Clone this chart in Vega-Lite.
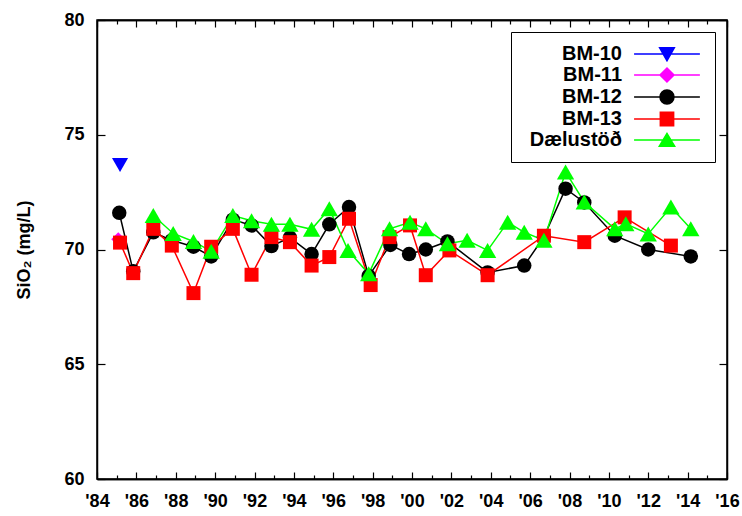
{
  "$schema": "https://vega.github.io/schema/vega-lite/v6.json",
  "width": 630,
  "height": 459,
  "autosize": "none",
  "padding": {"left": 97, "top": 20, "right": 15, "bottom": 37},
  "config": {
    "font": "Liberation Sans",
    "view": {"stroke": "black", "strokeWidth": 1.5},
    "axis": {
      "grid": false,
      "domainColor": "black",
      "domainWidth": 1.5,
      "tickColor": "black",
      "tickWidth": 1.2,
      "labelColor": "black",
      "titleColor": "black",
      "labelFont": "Liberation Sans",
      "labelFontSize": 18,
      "labelFontWeight": "bold"
    }
  },
  "data": {
    "values": [
      {"series": "BM-10", "year": 1985.17, "value": 73.68},
      {"series": "BM-11", "year": 1985.08, "value": 70.45},
      {"series": "BM-12", "year": 1985.13, "value": 71.6},
      {"series": "BM-12", "year": 1985.84, "value": 69.05},
      {"series": "BM-12", "year": 1986.86, "value": 70.75},
      {"series": "BM-12", "year": 1987.8, "value": 70.4},
      {"series": "BM-12", "year": 1988.9, "value": 70.12},
      {"series": "BM-12", "year": 1989.8, "value": 69.7},
      {"series": "BM-12", "year": 1990.9, "value": 71.3},
      {"series": "BM-12", "year": 1991.85, "value": 71.05},
      {"series": "BM-12", "year": 1992.86, "value": 70.15},
      {"series": "BM-12", "year": 1993.8, "value": 70.52},
      {"series": "BM-12", "year": 1994.9, "value": 69.8},
      {"series": "BM-12", "year": 1995.8, "value": 71.1},
      {"series": "BM-12", "year": 1996.8, "value": 71.85},
      {"series": "BM-12", "year": 1997.8, "value": 68.85},
      {"series": "BM-12", "year": 1998.9, "value": 70.2},
      {"series": "BM-12", "year": 1999.85, "value": 69.8},
      {"series": "BM-12", "year": 2000.7, "value": 70.0},
      {"series": "BM-12", "year": 2001.8, "value": 70.35},
      {"series": "BM-12", "year": 2003.84, "value": 69.0},
      {"series": "BM-12", "year": 2005.7, "value": 69.3},
      {"series": "BM-12", "year": 2006.7, "value": 70.55},
      {"series": "BM-12", "year": 2007.8, "value": 72.65},
      {"series": "BM-12", "year": 2008.75, "value": 72.05},
      {"series": "BM-12", "year": 2010.3, "value": 70.6},
      {"series": "BM-12", "year": 2012.0, "value": 70.0},
      {"series": "BM-12", "year": 2014.16, "value": 69.7},
      {"series": "BM-13", "year": 1985.17, "value": 70.3},
      {"series": "BM-13", "year": 1985.84, "value": 68.97},
      {"series": "BM-13", "year": 1986.86, "value": 70.9},
      {"series": "BM-13", "year": 1987.8, "value": 70.17},
      {"series": "BM-13", "year": 1988.9, "value": 68.1},
      {"series": "BM-13", "year": 1989.8, "value": 70.12},
      {"series": "BM-13", "year": 1990.9, "value": 70.9},
      {"series": "BM-13", "year": 1991.85, "value": 68.9},
      {"series": "BM-13", "year": 1992.86, "value": 70.54},
      {"series": "BM-13", "year": 1993.8, "value": 70.32},
      {"series": "BM-13", "year": 1994.9, "value": 69.3},
      {"series": "BM-13", "year": 1995.8, "value": 69.67},
      {"series": "BM-13", "year": 1996.8, "value": 71.34},
      {"series": "BM-13", "year": 1997.9, "value": 68.45},
      {"series": "BM-13", "year": 1998.86, "value": 70.54},
      {"series": "BM-13", "year": 1999.9, "value": 71.05},
      {"series": "BM-13", "year": 2000.7, "value": 68.88},
      {"series": "BM-13", "year": 2001.9, "value": 69.96},
      {"series": "BM-13", "year": 2003.84, "value": 68.88},
      {"series": "BM-13", "year": 2006.7, "value": 70.6},
      {"series": "BM-13", "year": 2008.75, "value": 70.32},
      {"series": "BM-13", "year": 2010.8, "value": 71.4},
      {"series": "BM-13", "year": 2013.15, "value": 70.17},
      {"series": "Dælustöð", "year": 1986.86, "value": 71.48},
      {"series": "Dælustöð", "year": 1987.87, "value": 70.7},
      {"series": "Dælustöð", "year": 1988.9, "value": 70.35},
      {"series": "Dælustöð", "year": 1989.8, "value": 69.92},
      {"series": "Dælustöð", "year": 1990.9, "value": 71.48},
      {"series": "Dælustöð", "year": 1991.85, "value": 71.25},
      {"series": "Dælustöð", "year": 1992.86, "value": 71.1},
      {"series": "Dælustöð", "year": 1993.8, "value": 71.1},
      {"series": "Dælustöð", "year": 1994.9, "value": 70.88},
      {"series": "Dælustöð", "year": 1995.8, "value": 71.78},
      {"series": "Dælustöð", "year": 1996.75, "value": 69.96},
      {"series": "Dælustöð", "year": 1997.8, "value": 68.94},
      {"series": "Dælustöð", "year": 1998.86, "value": 70.9},
      {"series": "Dælustöð", "year": 1999.9, "value": 71.19},
      {"series": "Dælustöð", "year": 2000.7, "value": 70.9},
      {"series": "Dælustöð", "year": 2001.8, "value": 70.25},
      {"series": "Dælustöð", "year": 2002.8, "value": 70.4},
      {"series": "Dælustöð", "year": 2003.84, "value": 69.96},
      {"series": "Dælustöð", "year": 2004.86, "value": 71.19},
      {"series": "Dælustöð", "year": 2005.7, "value": 70.75},
      {"series": "Dælustöð", "year": 2006.7, "value": 70.4},
      {"series": "Dælustöð", "year": 2007.8, "value": 73.38},
      {"series": "Dælustöð", "year": 2008.75, "value": 72.07},
      {"series": "Dælustöð", "year": 2010.3, "value": 70.9},
      {"series": "Dælustöð", "year": 2010.86, "value": 71.12},
      {"series": "Dælustöð", "year": 2012.0, "value": 70.68},
      {"series": "Dælustöð", "year": 2013.15, "value": 71.85},
      {"series": "Dælustöð", "year": 2014.16, "value": 70.9}
    ]
  },
  "resolve": {
    "axis": {"x": "independent", "y": "independent"}
  },
  "layer": [
    {
      "mark": {"type": "line", "strokeWidth": 1.5},
      "encoding": {
        "x": {
          "field": "year", "type": "quantitative",
          "scale": {"domain": [1984, 2016], "nice": false, "zero": false},
          "axis": {
            "orient": "bottom", "title": null,
            "values": [1984, 1986, 1988, 1990, 1992, 1994, 1996, 1998, 2000, 2002, 2004, 2006, 2008, 2010, 2012, 2014, 2016],
            "labelExpr": "\"'\" + slice(toString(datum.value), 2)",
            "tickSize": -7, "labelPadding": 20, "labelFlush": false, "labelOverlap": false
          }
        },
        "y": {
          "field": "value", "type": "quantitative",
          "scale": {"domain": [60, 80], "nice": false, "zero": false},
          "axis": {
            "orient": "left", "title": "SiO₂ (mg/L)",
            "values": [60, 65, 70, 75, 80],
            "tickSize": -8, "labelPadding": 21, "labelFlush": false, "labelOverlap": false,
            "titleFont": "Liberation Sans", "titleFontSize": 18, "titleFontWeight": "bold",
            "titlePadding": 30
          }
        },
        "color": {
          "field": "series", "type": "nominal",
          "scale": {"domain": ["BM-10", "BM-11", "BM-12", "BM-13", "Dælustöð"], "range": ["#0000ff", "#ff00ff", "#000000", "#ff0000", "#00ff00"]},
          "legend": {
            "title": null, "orient": "top-right", "offset": 12,
            "symbolSize": 196, "labelAlign": "right", "labelOffset": 79,
            "labelFont": "Liberation Sans", "labelFontSize": 20, "labelFontWeight": "bold", "labelColor": "black", "labelLimit": 300,
            "strokeColor": "black", "fillColor": "white", "padding": 12, "rowPadding": 1, "symbolStrokeWidth": 1.5,
            "encode": {
              "symbols": {
                "update": {
                  "shape": {"signal": "['M14.44,0L23.84,0M18.09,-0.9L20.19,-0.9L19.14,0.95Z', 'M14.44,0L23.84,0M19.14,-1L20.14,0L19.14,1L18.14,0Z', 'M14.44,0L23.84,0M18.14,0A1,1,0,1,0,20.14,0A1,1,0,1,0,18.14,0Z', 'M14.44,0L23.84,0M18.19,-0.95L20.09,-0.95L20.09,0.95L18.19,0.95Z', 'M14.44,0L23.84,0M18.04,0.9L20.24,0.9L19.14,-0.95Z'][indexof(['BM-10', 'BM-11', 'BM-12', 'BM-13', 'Dælustöð'], datum.value)]"},
                  "fill": {"scale": "color", "field": "value"},
                  "stroke": {"scale": "color", "field": "value"},
                  "size": {"value": 196},
                  "strokeWidth": {"value": 1.5},
                  "opacity": {"value": 1}
                }
              }
            }
          }
        }
      }
    },
    {
      "transform": [{"filter": "datum.series === 'BM-10'"}],
      "mark": {"type": "point", "filled": true, "opacity": 1, "shape": "triangle-down", "size": 260},
      "encoding": {
        "x": {
          "field": "year", "type": "quantitative",
          "axis": {
            "orient": "bottom", "title": null, "labels": false,
            "values": [1985, 1987, 1989, 1991, 1993, 1995, 1997, 1999, 2001, 2003, 2005, 2007, 2009, 2011, 2013, 2015],
            "tickSize": -4
          }
        },
        "y": {
          "field": "value", "type": "quantitative",
          "axis": {"orient": "right", "title": null, "labels": false, "values": [60, 65, 70, 75, 80], "tickSize": -8}
        },
        "color": {"field": "series", "type": "nominal", "legend": null}
      }
    },
    {
      "transform": [{"filter": "datum.series === 'BM-11'"}],
      "mark": {"type": "point", "filled": true, "opacity": 1, "shape": "diamond", "size": 196},
      "encoding": {
        "x": {"field": "year", "type": "quantitative", "axis": null},
        "y": {"field": "value", "type": "quantitative", "axis": null},
        "color": {"field": "series", "type": "nominal", "legend": null}
      }
    },
    {
      "transform": [{"filter": "datum.series === 'BM-12'"}],
      "mark": {"type": "point", "filled": true, "opacity": 1, "shape": "circle", "size": 210},
      "encoding": {
        "x": {"field": "year", "type": "quantitative", "axis": null},
        "y": {"field": "value", "type": "quantitative", "axis": null},
        "color": {"field": "series", "type": "nominal", "legend": null}
      }
    },
    {
      "transform": [{"filter": "datum.series === 'BM-13'"}],
      "mark": {"type": "point", "filled": true, "opacity": 1, "shape": "square", "size": 196},
      "encoding": {
        "x": {"field": "year", "type": "quantitative", "axis": null},
        "y": {"field": "value", "type": "quantitative", "axis": null},
        "color": {"field": "series", "type": "nominal", "legend": null}
      }
    },
    {
      "transform": [{"filter": "datum.series === 'Dælustöð'"}],
      "mark": {"type": "point", "filled": true, "opacity": 1, "shape": "triangle-up", "size": 300},
      "encoding": {
        "x": {"field": "year", "type": "quantitative", "axis": null},
        "y": {"field": "value", "type": "quantitative", "axis": null},
        "color": {"field": "series", "type": "nominal", "legend": null}
      }
    },
    {
      "mark": {"type": "point", "opacity": 0},
      "encoding": {
        "x": {
          "field": "year", "type": "quantitative",
          "axis": {
            "orient": "top", "title": null, "labels": false,
            "values": [1984, 1986, 1988, 1990, 1992, 1994, 1996, 1998, 2000, 2002, 2004, 2006, 2008, 2010, 2012, 2014, 2016],
            "tickSize": -7
          }
        },
        "y": {"field": "value", "type": "quantitative", "axis": null}
      }
    },
    {
      "mark": {"type": "point", "opacity": 0},
      "encoding": {
        "x": {
          "field": "year", "type": "quantitative",
          "axis": {
            "orient": "top", "title": null, "labels": false,
            "values": [1985, 1987, 1989, 1991, 1993, 1995, 1997, 1999, 2001, 2003, 2005, 2007, 2009, 2011, 2013, 2015],
            "tickSize": -4
          }
        },
        "y": {"field": "value", "type": "quantitative", "axis": null}
      }
    }
  ]
}
